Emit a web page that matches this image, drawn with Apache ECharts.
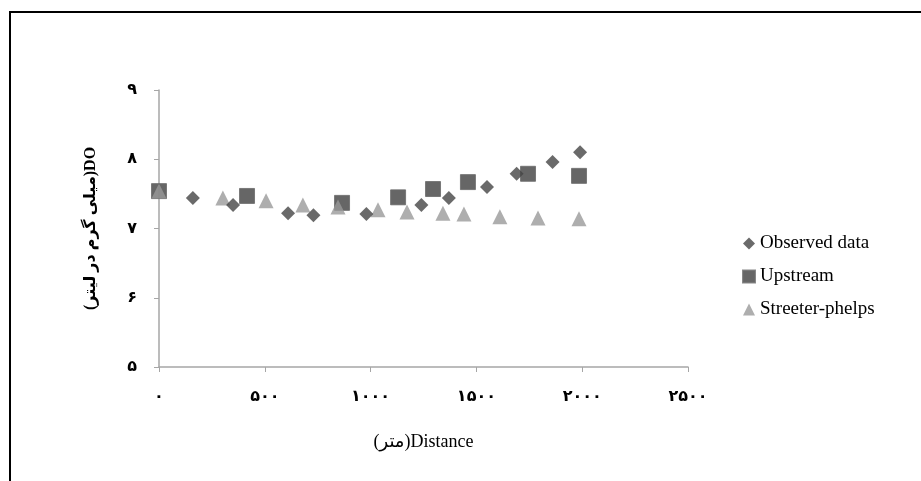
<!DOCTYPE html>
<html>
<head>
<meta charset="utf-8">
<script src="https://cdn.jsdelivr.net/npm/echarts@6/dist/echarts.min.js"></script>
<style>
html,body{margin:0;padding:0;background:#fff;}
#frame{position:absolute;left:9px;top:11px;right:0;bottom:0;border-left:2px solid #000;border-top:2px solid #000;}
#chart{position:absolute;left:0;top:0;width:921px;height:481px;}
</style>
</head>
<body>
<div id="frame"></div>
<div id="chart"></div>
<script>
// Data
var observedX = [160, 350, 610, 730, 980, 1240, 1370, 1550, 1690, 1860, 1990];
var observedY = [7.44, 7.34, 7.22, 7.19, 7.21, 7.34, 7.44, 7.60, 7.79, 7.96, 8.10];
var upstreamX = [0, 416, 865, 1130, 1295, 1460, 1744, 1985];
var upstreamY = [7.54, 7.47, 7.37, 7.45, 7.57, 7.67, 7.79, 7.76];
var streeterX = [0, 302, 506, 680, 846, 1035, 1172, 1342, 1441, 1611, 1791, 1985];
var streeterY = [7.54, 7.44, 7.40, 7.34, 7.31, 7.27, 7.24, 7.22, 7.21, 7.17, 7.15, 7.14];

var xTickValues = [0, 500, 1000, 1500, 2000, 2500];
var xTickLabels = ['۰', '۵۰۰', '۱۰۰۰', '۱۵۰۰', '۲۰۰۰', '۲۵۰۰'];
var yTickValues = [5, 6, 7, 8, 9];
var yTickLabels = ['۵', '۶', '۷', '۸', '۹'];

var seriesNames = ['Observed data', 'Upstream', 'Streeter-phelps'];
var xAxisName = '(متر)Distance';
var yAxisName = '(میلی گرم در لیتر)DO';

function pairs(xs, ys) { return xs.map(function (x, i) { return [x, ys[i]]; }); }
function lookup(vals, labels) {
  return function (v) { var i = vals.indexOf(v); return i >= 0 ? labels[i] : ''; };
}

var chart = echarts.init(document.getElementById('chart'), null, { renderer: 'canvas' });
var labelFont = '"Liberation Serif", "DejaVu Sans", serif';
chart.setOption({
  backgroundColor: 'transparent',
  animation: false,
  grid: { left: 159, top: 90, width: 529, height: 277 },
  legend: {
    orient: 'vertical',
    left: 737,
    top: 229,
    itemGap: 14,
    itemWidth: 12,
    itemHeight: 12,
    textStyle: { fontFamily: labelFont, fontSize: 19, color: '#000', lineHeight: 19 },
    data: [
      { name: seriesNames[0], icon: 'diamond' },
      { name: seriesNames[1], icon: 'rect' },
      { name: seriesNames[2], icon: 'triangle' }
    ]
  },
  xAxis: {
    type: 'value',
    min: 0, max: 2500, interval: 500,
    name: xAxisName,
    nameLocation: 'middle',
    nameGap: 66,
    nameTextStyle: { fontFamily: labelFont, fontSize: 18, color: '#000' },
    axisLine: { show: true, lineStyle: { color: '#a6a6a6', width: 1.5 } },
    axisTick: { show: true, length: 5, lineStyle: { color: '#a6a6a6' } },
    axisLabel: { margin: 22, fontFamily: labelFont, fontWeight: 'bold', fontSize: 16, color: '#000',
      formatter: lookup(xTickValues, xTickLabels) },
    splitLine: { show: false }
  },
  yAxis: {
    type: 'value',
    min: 5, max: 9, interval: 1,
    name: yAxisName,
    nameLocation: 'middle',
    nameGap: 60,
    nameRotate: 90,
    nameTextStyle: { fontFamily: labelFont, fontSize: 16, fontWeight: 'bold', color: '#000' },
    axisLine: { show: true, lineStyle: { color: '#a6a6a6', width: 1.5 } },
    axisTick: { show: true, length: 5, lineStyle: { color: '#a6a6a6' } },
    axisLabel: { margin: 22, fontFamily: labelFont, fontWeight: 'bold', fontSize: 16, color: '#000',
      formatter: lookup(yTickValues, yTickLabels) },
    splitLine: { show: false }
  },
  series: [
    {
      name: seriesNames[1], type: 'scatter', symbol: 'rect', symbolSize: 15, z: 2,
      itemStyle: { color: '#404040', borderColor: '#6a6a6a', borderWidth: 1 },
      data: pairs(upstreamX, upstreamY)
    },
    {
      name: seriesNames[2], type: 'scatter', symbol: 'triangle', symbolSize: 15, z: 3,
      itemStyle: { color: '#9a9a9a' },
      data: pairs(streeterX, streeterY)
    },
    {
      name: seriesNames[0], type: 'scatter', symbol: 'diamond', symbolSize: 14, z: 4,
      itemStyle: { color: '#454545' },
      data: pairs(observedX, observedY)
    }
  ]
});
</script>
</body>
</html>
